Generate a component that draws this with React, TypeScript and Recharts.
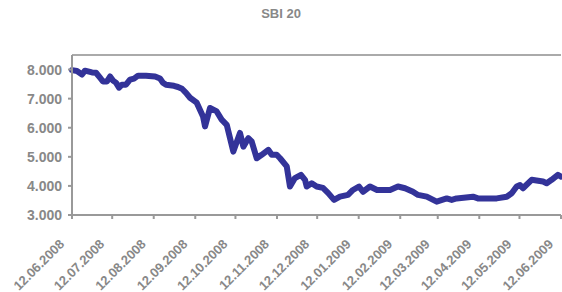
import React from "react";
import { LineChart, Line, XAxis, YAxis, ReferenceLine } from "recharts";

const title = "SBI 20";

// days since 12.06.2008
const days = [
  0, 3.7, 7.5, 9.7, 14.9, 17.9, 20.9, 23.1, 26.1, 28.4, 30.6, 32.8, 35.1, 37.3, 40.3, 43.3, 46.3, 49.3, 55.2, 62,
  65.7, 67.9, 70.2, 76.1, 79.1, 82.1, 85.1, 88.1, 93.1, 97.8, 99.3, 103, 108, 111.7, 115.5, 120.4, 125.4, 127.9,
  131.6, 134.1, 137.9, 141.6, 146.5, 149.1, 152.8, 155.3, 160.3, 162.7, 166.4, 170.9, 173.9, 175.2, 178.9, 182.6,
  187.3, 191.1, 195.6, 200, 206, 209.7, 214.2, 217.2, 222.4, 227.7, 237.4, 243.3, 248.6, 254.5, 258.3, 264.8,
  272.2, 279.7, 283.4, 287.1, 299.3, 303, 317, 324.5, 328.2, 331.9, 334.4, 336.6, 343.1, 351.6, 354.3, 358,
  362.7, 365,
];

const values = [
  7980, 7950, 7830, 7960, 7900, 7890, 7720, 7590, 7590, 7760, 7620, 7550, 7380, 7480, 7480, 7650, 7690, 7790, 7790, 7760,
  7690, 7550, 7480, 7440, 7400, 7340, 7200, 7030, 6860, 6390, 6045, 6680, 6560, 6280, 6100, 5180, 5820, 5350,
  5640, 5530, 4950, 5070, 5240, 5070, 5070, 4950, 4670, 3980, 4270, 4380, 4210, 3980, 4090, 3980,
  3930, 3760, 3520, 3630, 3690, 3860, 3980, 3800, 3980, 3860, 3860, 3980, 3920, 3800, 3690, 3630,
  3460, 3570, 3520, 3570, 3630, 3570, 3570, 3630, 3750, 3980, 4030, 3920, 4210, 4150, 4090, 4210,
  4380, 4320,
];

const tickDays = [0, 30, 61, 92, 122, 153, 183, 214, 245, 273, 304, 334, 365];
const tickLabels = [
  "12.06.2008", "12.07.2008", "12.08.2008", "12.09.2008", "12.10.2008", "12.11.2008", "12.12.2008",
  "12.01.2009", "12.02.2009", "12.03.2009", "12.04.2009", "12.05.2009", "12.06.2009",
];

const yTicks = [3000, 4000, 5000, 6000, 7000, 8000];

const data = days.map((d, i) => ({ day: d, value: values[i] }));

const textColor = "#888888";
const axisColor = "#999999";
const font = "'Liberation Sans', Arial, sans-serif";

const XTick = (props: any) => {
  const { x, y, payload } = props;
  const idx = tickDays.indexOf(payload.value);
  const label = idx >= 0 ? tickLabels[idx] : "";
  return (
    <g transform={`translate(${x - 7},${y + 26})`}>
      <text
        x={0}
        y={0}
        transform="rotate(-45)"
        textAnchor="end"
        fill={textColor}
        fontSize={13}
        fontWeight="bold"
        fontFamily={font}
      >
        {label}
      </text>
    </g>
  );
};

const fmtY = (v: number) => {
  const s = String(v);
  return s.slice(0, s.length - 3) + "." + s.slice(s.length - 3);
};

export default function App() {
  return (
    <div style={{ position: "fixed", left: 0, top: 0, width: 562, height: 292, background: "#fff" }}>
      <div
        style={{
          position: "absolute",
          left: 0,
          top: 6,
          width: 562,
          textAlign: "center",
          fontFamily: font,
          fontWeight: "bold",
          fontSize: 13,
          color: textColor,
          lineHeight: "16px",
        }}
      >
        {title}
      </div>
      <LineChart width={562} height={292} data={data} margin={{ top: 55, right: 1, bottom: 0, left: 0 }}>
        <ReferenceLine y={8500} stroke="#aaaaaa" strokeWidth={2} ifOverflow="extendDomain" />
        <XAxis
          dataKey="day"
          type="number"
          domain={[0, 365]}
          ticks={tickDays}
          interval={0}
          height={77}
          tickSize={4}
          tickMargin={0}
          stroke={axisColor}
          strokeWidth={2}
          tick={<XTick />}
        />
        <YAxis
          type="number"
          domain={[3000, 8500]}
          ticks={yTicks}
          interval={0}
          width={72}
          tickSize={4}
          tickMargin={6}
          stroke={axisColor}
          strokeWidth={2}
          tickFormatter={fmtY}
          tick={{ fill: textColor, fontSize: 14, fontWeight: "bold", fontFamily: font }}
        />
        <Line
          type="linear"
          dataKey="value"
          stroke="#333399"
          strokeWidth={6}
          dot={false}
          isAnimationActive={false}
          strokeLinejoin="round"
          strokeLinecap="round"
        />
      </LineChart>
    </div>
  );
}
